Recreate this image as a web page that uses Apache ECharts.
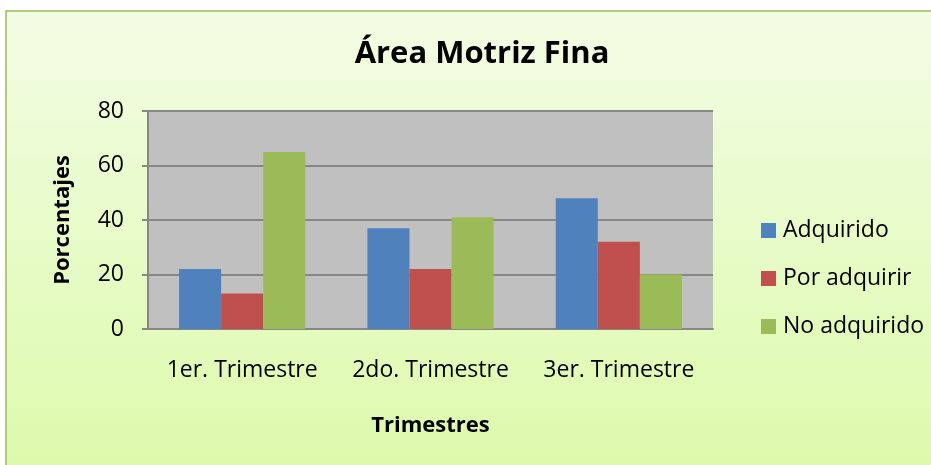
<!DOCTYPE html>
<html>
<head>
<meta charset="utf-8">
<script src="https://cdn.jsdelivr.net/npm/echarts@6/dist/echarts.min.js"></script>
<style>
  html, body { margin: 0; padding: 0; background: #fff; }
  #chart { width: 931px; height: 465px; }
</style>
</head>
<body>
<div id="chart"></div>
<script>
// datos
var categorias = ['1er. Trimestre', '2do. Trimestre', '3er. Trimestre'];
var adquirido = [22, 37, 48];
var porAdquirir = [13, 22, 32];
var noAdquirido = [65, 41, 20];
var yTicks = [0, 20, 40, 60, 80];

var font = '"Open Sans", sans-serif';
var myChart = echarts.init(document.getElementById('chart'));

var option = {
  backgroundColor: '#fff',
  animation: false,
  graphic: [{
    type: 'rect',
    z: -10,
    shape: { x: 6, y: 11, width: 930, height: 460 },
    style: {
      fill: new echarts.graphic.LinearGradient(0, 0, 0, 1, [
        { offset: 0, color: '#F3FCE4' },
        { offset: 1, color: '#DCFAAB' }
      ]),
      stroke: '#9BBB59',
      lineWidth: 1.5
    }
  }],
  title: {
    text: 'Área Motriz Fina',
    left: 477,
    top: 34,
    textAlign: 'center',
    textStyle: { fontFamily: font, fontSize: 31, fontWeight: 'bold', color: '#000' }
  },
  legend: {
    orient: 'vertical',
    left: 756,
    top: 214,
    itemWidth: 15,
    itemHeight: 15,
    itemGap: 25,
    icon: 'rect',
    textStyle: { fontFamily: font, fontSize: 23, color: '#000', padding: [0, 0, 0, 2] },
    data: ['Adquirido', 'Por adquirir', 'No adquirido']
  },
  grid: { left: 148, right: 218, top: 111, bottom: 136, backgroundColor: '#C0C0C0', show: true, borderWidth: 0 },
  xAxis: {
    type: 'category',
    data: categorias,
    name: 'Trimestres',
    nameLocation: 'middle',
    nameGap: 86,
    nameTextStyle: { fontFamily: font, fontSize: 22, fontWeight: 'bold', color: '#000' },
    axisLine: { lineStyle: { color: '#878787', width: 2 } },
    axisTick: { show: false },
    axisLabel: { fontFamily: font, fontSize: 23, color: '#000', margin: 30, interval: 0, hideOverlap: false }
  },
  yAxis: {
    type: 'value',
    min: yTicks[0],
    max: yTicks[yTicks.length - 1],
    interval: 20,
    name: 'Porcentajes',
    nameLocation: 'middle',
    nameGap: 74,
    nameRotate: 90,
    nameTextStyle: { fontFamily: font, fontSize: 22, fontWeight: 'bold', color: '#000' },
    axisLine: { show: true, lineStyle: { color: '#878787', width: 2 } },
    axisTick: { show: true, length: 6, lineStyle: { color: '#878787', width: 2 } },
    axisLabel: { fontFamily: font, fontSize: 23, color: '#000', margin: 24 },
    splitLine: { lineStyle: { color: '#878787', width: 2 } }
  },
  series: [
    { name: 'Adquirido', type: 'bar', data: adquirido, barGap: '0%', barCategoryGap: '33%',
      itemStyle: { color: '#4F81BD' } },
    { name: 'Por adquirir', type: 'bar', data: porAdquirir,
      itemStyle: { color: '#C0504D' } },
    { name: 'No adquirido', type: 'bar', data: noAdquirido,
      itemStyle: { color: '#9BBB59' } }
  ]
};
myChart.setOption(option);
</script>
</body>
</html>
